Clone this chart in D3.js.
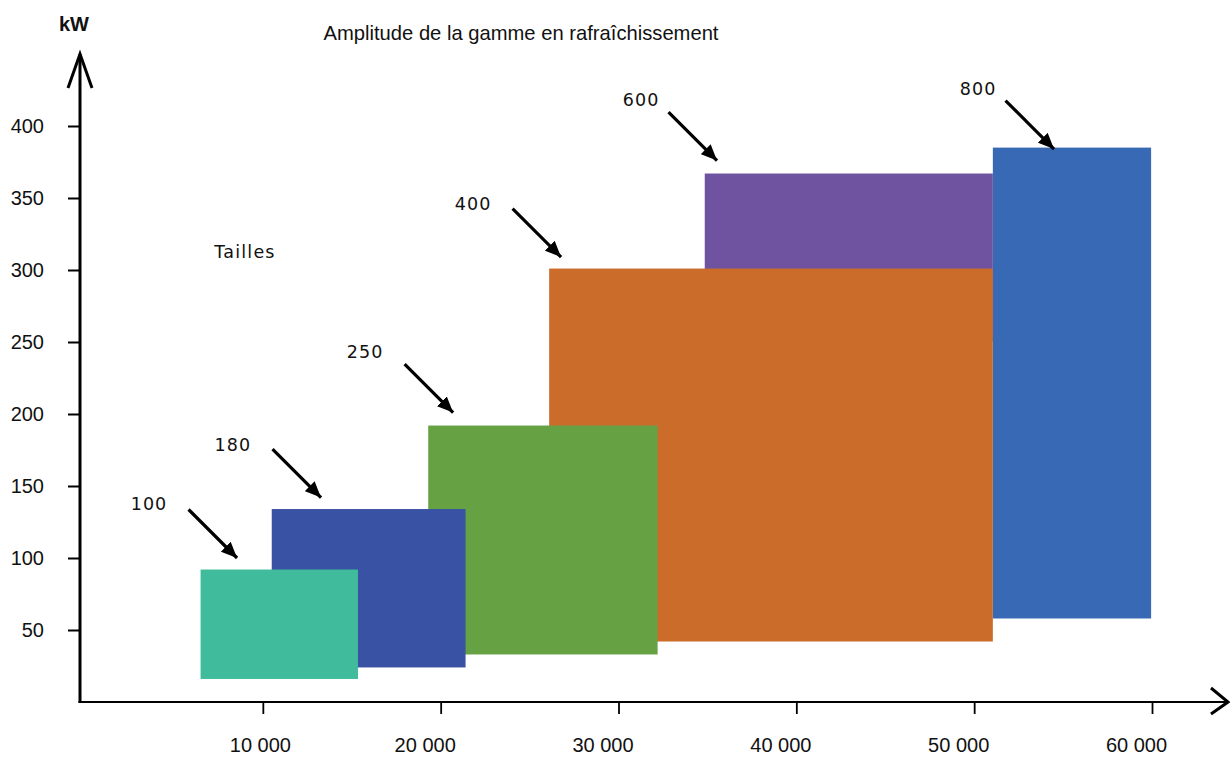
<!DOCTYPE html>
<html>
<head>
<meta charset="utf-8">
<script src="https://cdn.jsdelivr.net/npm/d3@7"></script>
<style>
  html, body { margin: 0; padding: 0; background: #fff; }
  svg { display: block; }
</style>
</head>
<body>
<svg id="chart" width="1230" height="758"></svg>
<script>
// ---- Data ----
const sizes      = ["100", "180", "250", "400", "600", "800"];
const xStart     = [6500, 10500, 19300, 26100, 34850, 51050];   // surface start
const xEnd       = [15350, 21400, 32200, 51050, 51050, 59950];  // surface end
const kwLow      = [16, 24, 33, 42, 250, 58];                   // kW low
const kwHigh     = [92, 134, 192, 301, 367, 385];               // kW high
const colors     = ["#40BC9C", "#3A52A3", "#66A243", "#CB6C2B", "#6F53A0", "#3769B4"];
const tipX       = [8550, 13270, 20700, 26770, 35540, 54490];   // arrow tip (data units)
const tipY       = [100, 142, 201, 309, 376, 384];
const labelX     = [3600, 8320, 15750, 21820, 31270, 50220];    // size label anchor (data units)
const labelY     = [138, 179, 243, 346, 418, 426];
const yTicks     = [50, 100, 150, 200, 250, 300, 350, 400];
const xTicks     = [10000, 20000, 30000, 40000, 50000, 60000];
const xTickLabels = ["10 000", "20 000", "30 000", "40 000", "50 000", "60 000"];
const title      = "Amplitude de la gamme en rafraîchissement";
const yUnit      = "kW";
const legendText = "Tailles";

// ---- Scales ----
const x = d3.scaleLinear().domain([0, 60000]).range([85, 1152]);
const y = d3.scaleLinear().domain([0, 400]).range([702, 126]);
const axisX = 80, axisY = y(0);

const svg = d3.select("#chart");
const sansA = "'Liberation Sans', Arial, Helvetica, sans-serif";
const sansB = "'DejaVu Sans', 'Open Sans', sans-serif";

// markers
const defs = svg.append("defs");
defs.append("marker")
  .attr("id", "tri")
  .attr("markerUnits", "userSpaceOnUse")
  .attr("viewBox", "0 0 16 14")
  .attr("refX", 16).attr("refY", 7)
  .attr("markerWidth", 16).attr("markerHeight", 14)
  .attr("orient", "auto")
  .append("path").attr("d", "M0,0 L16,7 L0,14 Z").attr("fill", "#000");

// ---- Rectangles (drawn largest-index first so small ones sit on top) ----
const rects = sizes.map((s, i) => ({ s, i, x0: xStart[i], x1: xEnd[i], y0: kwLow[i], y1: kwHigh[i], c: colors[i] }));
svg.append("g").selectAll("rect")
  .data(rects.slice().reverse())
  .join("rect")
  .attr("x", d => x(d.x0))
  .attr("y", d => y(d.y1))
  .attr("width", d => x(d.x1) - x(d.x0))
  .attr("height", d => y(d.y0) - y(d.y1))
  .attr("fill", d => d.c);

// ---- Axes ----
const gy = svg.append("g").attr("transform", `translate(${axisX},0)`)
  .call(d3.axisLeft(y).tickValues(yTicks).tickSize(12).tickPadding(24));
gy.select(".domain").remove();
gy.selectAll(".tick line").attr("stroke", "#000").attr("stroke-width", 2);
gy.selectAll(".tick text").attr("font-family", sansA).attr("font-size", 20).attr("fill", "#111");

const gx = svg.append("g").attr("transform", `translate(0,${axisY})`)
  .call(d3.axisBottom(x).tickValues(xTicks).tickSize(12).tickFormat((d, i) => xTickLabels[i]));
gx.select(".domain").remove();
gx.selectAll(".tick line").attr("stroke", "#000").attr("stroke-width", 1.8);
gx.selectAll(".tick text")
  .attr("font-family", sansA).attr("font-size", 20).attr("fill", "#111")
  .attr("y", 50).attr("dy", 0)
  .attr("x", (d, i) => i === 0 ? -3 : -16);

// axis lines with arrows
svg.append("line").attr("x1", axisX).attr("y1", axisY + 1).attr("x2", axisX).attr("y2", 54)
  .attr("stroke", "#000").attr("stroke-width", 3);
svg.append("path").attr("d", `M${axisX - 12},88 L${axisX},54 L${axisX + 12},88`)
  .attr("fill", "none").attr("stroke", "#000").attr("stroke-width", 3);
svg.append("line").attr("x1", axisX - 1.5).attr("y1", axisY).attr("x2", 1228).attr("y2", axisY)
  .attr("stroke", "#000").attr("stroke-width", 2);
svg.append("path").attr("d", `M1211,688 L1228,${axisY} L1211,714`)
  .attr("fill", "none").attr("stroke", "#000").attr("stroke-width", 3);

// ---- Annotations ----
const ann = svg.append("g");
sizes.forEach((s, i) => {
  const tx = x(tipX[i]), ty = y(tipY[i]);
  ann.append("line")
    .attr("x1", tx - 48.5).attr("y1", ty - 48.5)
    .attr("x2", tx).attr("y2", ty)
    .attr("stroke", "#000").attr("stroke-width", 3.2)
    .attr("marker-end", "url(#tri)");
  ann.append("text")
    .attr("x", x(labelX[i])).attr("y", y(labelY[i]))
    .attr("dy", "0.36em")
    .attr("text-anchor", "middle")
    .attr("font-family", sansB).attr("font-size", 17.5)
    .attr("letter-spacing", 1.1)
    .attr("fill", "#111")
    .text(s);
});

// ---- Texts ----
svg.append("text").attr("x", 521).attr("y", 40).attr("text-anchor", "middle")
  .attr("font-family", sansA).attr("font-size", 20.2).attr("fill", "#111").text(title);
svg.append("text").attr("x", 74).attr("y", 31).attr("text-anchor", "middle")
  .attr("font-family", sansA).attr("font-size", 20).attr("font-weight", "bold").attr("fill", "#111").text(yUnit);
svg.append("text").attr("x", 245).attr("y", 258).attr("text-anchor", "middle")
  .attr("font-family", sansB).attr("font-size", 17.5).attr("letter-spacing", 1.2)
  .attr("fill", "#111").text(legendText);
</script>
</body>
</html>
